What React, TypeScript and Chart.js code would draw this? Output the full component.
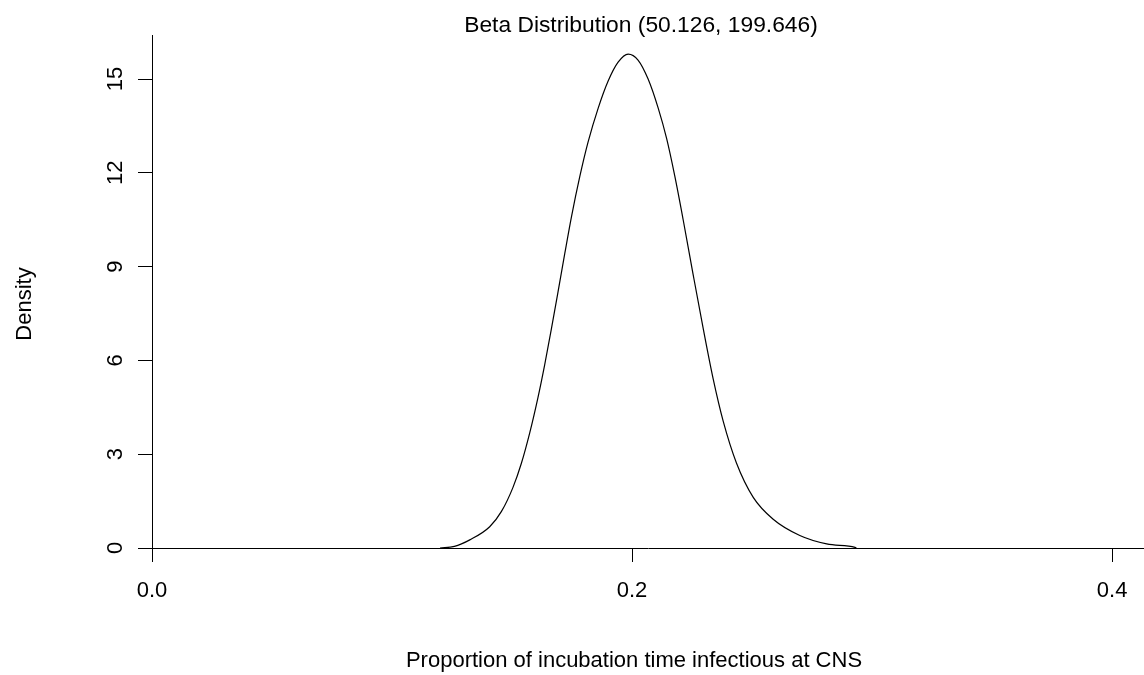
import React, { useEffect, useRef } from "react";
import { Chart, registerables } from "chart.js";

Chart.register(...registerables);

const TITLE = "Beta Distribution (50.126, 199.646)";
const X_LABEL = "Proportion of incubation time infectious at CNS";
const Y_LABEL = "Density";

// Curve points
const xValues = [
  0.12, 0.126, 0.1324, 0.1407, 0.1456, 0.1504, 0.1539, 0.1574, 0.1608, 0.1636,
  0.1664, 0.1692, 0.172, 0.1748, 0.1782, 0.1817, 0.1859, 0.19, 0.1942, 0.1984,
  0.2025, 0.2067, 0.2109, 0.2144, 0.2178, 0.2213, 0.2254, 0.2296, 0.2338, 0.238,
  0.2435, 0.2505, 0.2588, 0.2699, 0.2811, 0.2929, 0.2935,
];
const densityValues = [
  0, 0.05, 0.26, 0.68, 1.17, 1.94, 2.71, 3.69, 4.81, 5.86,
  7.01, 8.21, 9.43, 10.61, 11.87, 12.99, 14.07, 14.93, 15.54, 15.8,
  15.61, 15.0, 14.07, 13.1, 11.9, 10.5, 8.77, 7.04, 5.41, 4.05,
  2.72, 1.62, 0.92, 0.4, 0.13, 0.02, 0,
];

const xTickValues = [0, 0.2, 0.4];
const xTickLabels = ["0.0", "0.2", "0.4"];
const yTickValues = [0, 3, 6, 9, 12, 15];
const yTickLabels = ["0", "3", "6", "9", "12", "15"];

const X_MIN = 0;
const X_MAX = 0.4133;
const Y_MIN = 0;
const Y_MAX = 16.41;

const FONT_FAMILY = "'Liberation Sans', Arial, sans-serif";

const textPlugin = {
  id: "rText",
  afterDraw(chart: any) {
    const ctx = chart.ctx as CanvasRenderingContext2D;
    const xs = chart.scales.x;
    const ys = chart.scales.y;
    ctx.save();
    ctx.fillStyle = "#000";
    ctx.textBaseline = "alphabetic";
    ctx.textAlign = "center";

    // title
    ctx.font = `22.8px ${FONT_FAMILY}`;
    ctx.fillText(TITLE, 641, 32);

    // x axis title
    ctx.font = `22px ${FONT_FAMILY}`;
    ctx.fillText(X_LABEL, 634, 667);

    // x tick labels
    xTickValues.forEach((v, i) => {
      ctx.fillText(xTickLabels[i], xs.getPixelForValue(v), 597);
    });

    // y tick labels (rotated)
    yTickValues.forEach((v, i) => {
      ctx.save();
      ctx.translate(122, ys.getPixelForValue(v));
      ctx.rotate(-Math.PI / 2);
      ctx.fillText(yTickLabels[i], 0, 0);
      ctx.restore();
    });

    // y axis title
    ctx.save();
    ctx.translate(31, 304);
    ctx.rotate(-Math.PI / 2);
    ctx.fillText(Y_LABEL, 0, 0);
    ctx.restore();

    ctx.restore();
  },
};

export default function App() {
  const canvasRef = useRef<HTMLCanvasElement | null>(null);

  useEffect(() => {
    const canvas = canvasRef.current;
    if (!canvas) return;
    const data = xValues.map((x, i) => ({ x, y: densityValues[i] }));
    const chart = new Chart(canvas, {
      type: "line",
      data: {
        datasets: [
          {
            data,
            borderColor: "#000",
            borderWidth: 1.2,
            pointRadius: 0,
            fill: false,
            cubicInterpolationMode: "monotone",
          },
        ],
      },
      options: {
        responsive: false,
        animation: false,
        events: [],
        layout: { padding: { top: 35, left: 0, right: 0, bottom: 0 } },
        plugins: {
          legend: { display: false },
          title: { display: false },
          tooltip: { enabled: false },
        },
        scales: {
          x: {
            type: "linear",
            min: X_MIN,
            max: X_MAX,
            afterBuildTicks: (scale: any) => {
              scale.ticks = xTickValues.map((v) => ({ value: v }));
            },
            afterFit: (scale: any) => {
              scale.height = 127;
            },
            ticks: { display: false },
            grid: {
              display: true,
              drawOnChartArea: false,
              drawTicks: true,
              tickLength: 14,
              color: "#000",
              lineWidth: 1,
            },
            border: { display: true, color: "#000", width: 1 },
          },
          y: {
            type: "linear",
            min: Y_MIN,
            max: Y_MAX,
            afterBuildTicks: (scale: any) => {
              scale.ticks = yTickValues.map((v) => ({ value: v }));
            },
            afterFit: (scale: any) => {
              scale.width = 152;
            },
            ticks: { display: false },
            grid: {
              display: true,
              drawOnChartArea: false,
              drawTicks: true,
              tickLength: 14,
              color: "#000",
              lineWidth: 1,
            },
            border: { display: true, color: "#000", width: 1 },
          },
        },
      },
      plugins: [textPlugin],
    } as any);
    return () => chart.destroy();
  }, []);

  return (
    <div style={{ position: "absolute", left: 0, top: 0, width: 1144, height: 675, background: "#fff" }}>
      <canvas ref={canvasRef} width={1144} height={675} style={{ display: "block" }} />
    </div>
  );
}
